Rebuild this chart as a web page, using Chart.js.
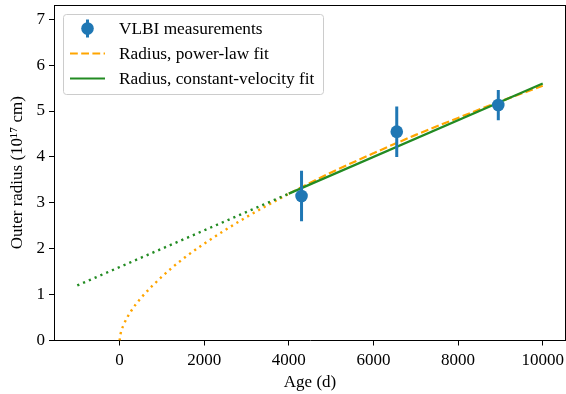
<!DOCTYPE html>
<html>
<head>
<meta charset="utf-8">
<script src="https://cdn.jsdelivr.net/npm/chart.js@4"></script>
<style>
  html, body { margin: 0; padding: 0; background: #fff; }
  #wrap { width: 566px; height: 394px; }
</style>
</head>
<body>
<div id="wrap"><canvas id="radiusChart" width="566" height="394"></canvas></div>
<script>
// VLBI measurements
const ages = [4300, 6550, 8950];
const radii = [3.15, 4.55, 5.13];
const radiusErr = [0.55, 0.55, 0.33];

// power-law fit (dashed part) and its extrapolation (dotted)
const powerAges = [4000, 5000, 6000, 7000, 8000, 9000, 10000];
const powerRadii = [3.20, 3.66, 4.08, 4.48, 4.85, 5.21, 5.55];
const powerExtraAges = [0, 25, 100, 250, 500, 1000, 1500, 2000, 3000, 4000];
const powerExtraRadii = [0, 0.15, 0.35, 0.61, 0.92, 1.39, 1.78, 2.11, 2.69, 3.20];

// constant-velocity fit and its extrapolation
const velAges = [4000, 10000];
const velRadii = [3.2, 5.6];
const velExtraAges = [-1000, 4000];
const velExtraRadii = [1.2, 3.2];

const xTicks = [0, 2000, 4000, 6000, 8000, 10000];
const yTicks = [0, 1, 2, 3, 4, 5, 6, 7];

const BLUE = '#1f77b4';
const ORANGE = '#ffa500';
const GREEN = '#228b22';
const FONT = 'Liberation Serif';
const FSIZE = 17;

const pts = (xs, ys) => xs.map((x, i) => ({ x: x, y: ys[i] }));

const datasets = [
    {
        label: 'VLBI measurements',
        legendKind: 'errorbar',
        data: pts(ages, radii),
        showLine: false,
        pointRadius: 6.3,
        pointBackgroundColor: BLUE,
        pointBorderWidth: 0
    }
];
// one small vertical segment per measurement for the error bars
ages.forEach(function (a, i) {
    datasets.push({
        data: [{ x: a, y: radii[i] - radiusErr[i] }, { x: a, y: radii[i] + radiusErr[i] }],
        borderColor: BLUE,
        borderWidth: 3,
        pointRadius: 0
    });
});
datasets.push(
    {
        label: 'Radius, constant-velocity fit',
        legendKind: 'solid',
        data: pts(velAges, velRadii),
        borderColor: GREEN,
        borderWidth: 2.2,
        pointRadius: 0
    },
    {
        label: 'Radius, power-law fit',
        legendKind: 'dashed',
        data: pts(powerAges, powerRadii),
        borderColor: ORANGE,
        borderWidth: 2.2,
        borderDash: [7.8, 3.4],
        pointRadius: 0,
        cubicInterpolationMode: 'monotone'
    },
    {
        data: pts(velExtraAges, velExtraRadii),
        borderColor: GREEN,
        borderWidth: 2.4,
        borderDash: [2.2, 4.1],
        pointRadius: 0
    },
    {
        data: pts(powerExtraAges, powerExtraRadii),
        borderColor: ORANGE,
        borderWidth: 2.4,
        borderDash: [2.2, 4.1],
        pointRadius: 0,
        cubicInterpolationMode: 'monotone'
    }
);

// top/right spines plus the boxed legend in the upper left
const framePlugin = {
    id: 'frame',
    afterDraw(chart) {
        const c = chart.ctx;
        const a = chart.chartArea;
        c.save();
        c.strokeStyle = '#000';
        c.lineWidth = 1;
        c.beginPath();
        c.moveTo(a.left, a.top + 0.5);
        c.lineTo(a.right, a.top + 0.5);
        c.moveTo(a.right - 0.5, a.top);
        c.lineTo(a.right - 0.5, a.bottom);
        c.stroke();

        // legend
        const bx = 63.5, by = 14.5, bw = 260, bh = 80, r = 3;
        c.beginPath();
        c.roundRect(bx, by, bw, bh, r);
        c.fillStyle = 'rgba(255,255,255,0.8)';
        c.fill();
        c.strokeStyle = '#cccccc';
        c.stroke();

        const items = chart.data.datasets.filter(d => d.legendKind);
        const order = ['errorbar', 'dashed', 'solid'];
        items.sort((p, q) => order.indexOf(p.legendKind) - order.indexOf(q.legendKind));
        c.font = '17.3px "' + FONT + '"';
        c.textBaseline = 'middle';
        items.forEach(function (d, i) {
            const y = 28.5 + i * 25;
            const x0 = 70, x1 = 105, xm = 87.5;
            if (d.legendKind === 'errorbar') {
                c.strokeStyle = BLUE;
                c.lineWidth = 3;
                c.beginPath();
                c.moveTo(xm, y - 9);
                c.lineTo(xm, y + 9);
                c.stroke();
                c.fillStyle = BLUE;
                c.beginPath();
                c.arc(xm, y, 6.3, 0, Math.PI * 2);
                c.fill();
            } else {
                c.strokeStyle = d.borderColor;
                c.lineWidth = 2.2;
                c.setLineDash(d.legendKind === 'dashed' ? [7.8, 3.4] : []);
                c.beginPath();
                c.moveTo(x0, y);
                c.lineTo(x1, y);
                c.stroke();
                c.setLineDash([]);
            }
            c.fillStyle = '#000';
            c.fillText(d.label, 119, y + 1);
        });
        c.restore();
    }
};

new Chart(document.getElementById('radiusChart'), {
    type: 'line',
    data: { datasets: datasets },
    options: {
        responsive: false,
        animation: false,
        events: [],
        layout: { autoPadding: false, padding: { top: 5, right: 0, bottom: 0, left: 0 } },
        plugins: {
            legend: { display: false },
            tooltip: { enabled: false }
        },
        scales: {
            x: {
                type: 'linear',
                min: -1550,
                max: 10550,
                afterBuildTicks: s => { s.ticks = xTicks.map(v => ({ value: v })); },
                afterFit: s => { s.height = 53.5; s.paddingLeft = 0; s.paddingRight = 0; },
                grid: { drawOnChartArea: false, color: '#000', tickLength: 5, tickWidth: 1 },
                border: { display: true, color: '#000', width: 1 },
                ticks: { color: '#000', padding: 5, maxRotation: 0, font: { family: FONT, size: FSIZE }, callback: v => String(v) },
                title: { display: true, text: 'Age (d)', color: '#000', font: { family: FONT, size: FSIZE }, padding: { top: 0, bottom: 1 } }
            },
            y: {
                type: 'linear',
                min: 0,
                max: 7.31,
                afterBuildTicks: s => { s.ticks = yTicks.map(v => ({ value: v })); },
                afterFit: s => { s.width = 54; s.paddingTop = 0; s.paddingBottom = 0; },
                grid: { drawOnChartArea: false, color: '#000', tickLength: 5, tickWidth: 1 },
                border: { display: true, color: '#000', width: 1 },
                ticks: { color: '#000', padding: 4, font: { family: FONT, size: FSIZE }, callback: v => String(v) },
                title: { display: true, text: 'Outer radius (10¹⁷ cm)', color: '#000', font: { family: FONT, size: FSIZE }, padding: { top: 7, bottom: 0 } }
            }
        }
    },
    plugins: [framePlugin]
});
</script>
</body>
</html>
